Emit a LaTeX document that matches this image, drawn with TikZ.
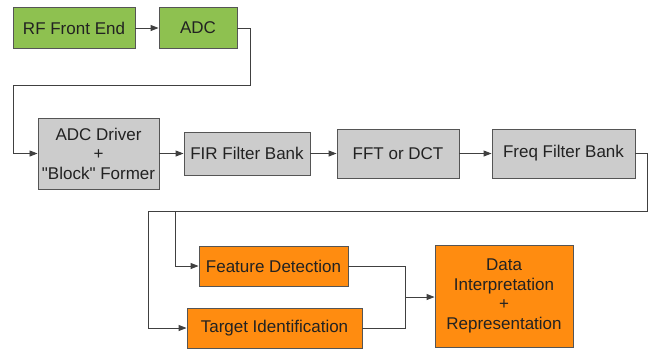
\documentclass[tikz,border=0pt]{standalone}
\usepackage{fontspec}
\setmainfont{Liberation Sans}
\usetikzlibrary{arrows.meta}
\definecolor{stagegreen}{HTML}{8EC150}
\definecolor{stagegray}{HTML}{CCCCCC}
\definecolor{stageorange}{HTML}{FF8C10}
\definecolor{edgegray}{HTML}{555555}
\definecolor{wiregray}{HTML}{404040}
\definecolor{inkdark}{HTML}{222222}
\tikzset{
  stage/.style={draw=edgegray, line width=0.9bp, inner sep=0pt, align=center,
    text=inkdark, font=\fontsize{17bp}{19.5bp}\selectfont},
  greenstage/.style={stage, fill=stagegreen},
  graystage/.style={stage, fill=stagegray},
  orangestage/.style={stage, fill=stageorange},
  conn/.style={draw=wiregray, line width=0.9bp, -{Triangle[length=8bp,width=6bp]}},
  wire/.style={draw=wiregray, line width=0.9bp}
}
\begin{document}
\begin{tikzpicture}[x=1bp,y=-1bp]
  \useasboundingbox[fill=white] (0,0) rectangle (651,349);

  % acquisition
  \node[greenstage, minimum width=122bp, minimum height=41bp] (rf) at (74,28) {RF Front End};
  \node[greenstage, minimum width=78bp, minimum height=41bp] (adc) at (198,28) {ADC};

  % signal processing chain
  \node[graystage, minimum width=121bp, minimum height=71bp] (drv) at (98.5,153.5) {ADC Driver\\+\\\textquotedbl Block\textquotedbl\ Former};
  \node[graystage, minimum width=126bp, minimum height=43bp] (fir) at (247,153.5) {FIR Filter Bank};
  \node[graystage, minimum width=122bp, minimum height=49bp] (fft) at (398,153.5) {FFT or DCT};
  \node[graystage, minimum width=143bp, minimum height=49bp] (freq) at (563.5,153.5) {Freq Filter Bank};

  % analysis
  \node[orangestage, minimum width=149bp, minimum height=40bp] (fd) at (273.5,266) {Feature Detection};
  \node[orangestage, minimum width=175bp, minimum height=40bp] (ti) at (274.5,328) {Target Identification};
  \node[orangestage, minimum width=138bp, minimum height=102bp] (data) at (504,296) {Data\\Interpretation\\+\\Representation};

  % routing points
  \coordinate (r1) at (250,85);
  \coordinate (r2) at (13,85);
  \coordinate (r3) at (647,211);
  \coordinate (r4) at (148,211);
  \coordinate (r5) at (175,211);
  \coordinate (mrg) at (405,297);

  \draw[conn] (rf) -- (adc);
  \draw[conn] (adc.east) -| (r1) -- (r2) |- (drv.west);
  \draw[conn] (drv) -- (fir);
  \draw[conn] (fir) -- (fft);
  \draw[conn] (fft) -- (freq);
  \draw[conn] (freq.east) -| (r3) -- (r4) |- (ti.west);
  \draw[conn] (r5) |- (fd.west);
  \draw[wire] (fd.east) -| (mrg);
  \draw[wire] (ti.east) -| (mrg);
  \draw[conn] (mrg) -- (data.west |- mrg);
\end{tikzpicture}
\end{document}
